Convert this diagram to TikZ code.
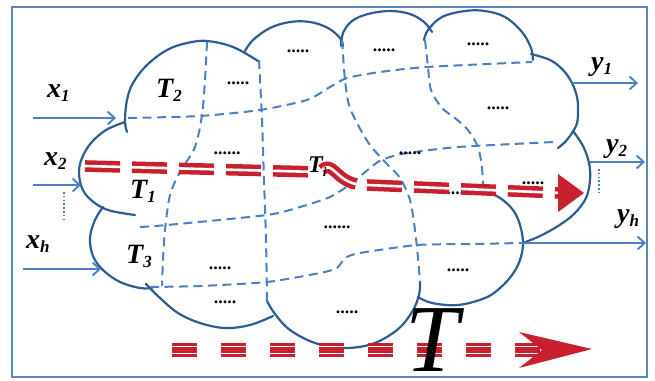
\documentclass[tikz,border=0pt]{standalone}
\usepackage{fontspec}
\setmainfont{Liberation Serif}
\usetikzlibrary{arrows.meta,calc}
\definecolor{outl}{HTML}{2E5D93}
\definecolor{lineb}{HTML}{4A80C4}
\definecolor{frameb}{HTML}{5A86BA}
\definecolor{redp}{HTML}{C8202C}
\newcommand\sbs[1]{\raisebox{-4.5pt}{\fontsize{17}{17}\selectfont #1}}
\tikzset{
  cloudline/.style={draw=outl, line width=2.2pt, line cap=round},
  part/.style={draw=lineb, line width=2pt, dash pattern=on 9pt off 5.5pt},
  io/.style={draw=lineb, line width=1.9pt, -{Straight Barb[length=7pt,width=13pt,line width=1.9pt]}},
  dotv/.style={draw=lineb, line width=1.8pt, dash pattern=on 1.6pt off 2.2pt},
  lab/.style={font=\fontsize{28}{28}\selectfont\bfseries\itshape, inner sep=0pt, anchor=base west},
  dts/.style={font=\fontsize{18}{18}\selectfont\bfseries, inner sep=0pt},
  reddbl/.style={draw=redp, line width=4.5pt, double=white, double distance=2.6pt, dash pattern=on 35pt off 12pt},
  redtri/.style={draw=redp, line width=14pt, dash pattern=on 25pt off 24pt},
  whtri/.style={draw=white, line width=1.4pt, dash pattern=on 25pt off 24pt},
}
\begin{document}
\begin{tikzpicture}[x=1pt,y=-1pt]
\useasboundingbox (0,0) rectangle (655,380);
\fill[white] (0,0) rectangle (655,380);
\draw[frameb, line width=1.8pt] (12,7) rectangle (647,377);

% cloud outline lobes
\draw[cloudline] plot[smooth, tension=0.6] coordinates {(127,132) (125,121) (127,100) (133,83) (147,65) (167,50) (187,43) (207,41) (233,47) (258,61)};
\draw[cloudline] plot[smooth, tension=0.6] coordinates {(245,51) (253,40) (270,28) (290,22) (310,22) (328,28) (340,38) (343,46)};
\draw[cloudline] plot[smooth, tension=0.6] coordinates {(341,46) (343,33) (352,21) (368,14) (390,11) (410,14) (424,22) (432,32)};
\draw[cloudline] plot[smooth, tension=0.6] coordinates {(424,40) (428,30) (442,17) (465,11) (485,11) (505,17) (522,32) (531,48) (533,60)};
\draw[cloudline] plot[smooth, tension=0.6] coordinates {(531,54) (550,60) (563,70) (572,83) (577,97) (578,110) (577,123) (572,133) (565,142) (558,148)};
\draw[cloudline] plot[smooth, tension=0.6] coordinates {(573,131) (583,146) (589,163) (590,180) (586,198) (574,214) (558,226) (540,236) (523,243)};
\draw[cloudline] plot[smooth, tension=0.6] coordinates {(482,189) (500,198) (513,210) (520,225) (523,243) (520,260) (512,275) (500,288) (485,298) (458,305) (432,303) (418,297)};
\draw[cloudline] plot[smooth, tension=0.6] coordinates {(267,301) (275,314) (290,330) (315,343) (343,348) (372,344) (397,330) (412,312) (419,295) (420,282)};
\draw[cloudline] plot[smooth, tension=0.6] coordinates {(146,284) (160,298) (178,313) (200,323) (225,328) (250,325) (273,316)};
\draw[cloudline] plot[smooth, tension=0.6] coordinates {(103,207) (95,220) (90,238) (93,256) (103,270) (120,282) (140,288) (152,288)};
\draw[cloudline] plot[smooth, tension=0.6] coordinates {(125,122) (106,130) (91,143) (82,158) (79,172) (82,188) (91,200) (108,210) (135,215)};

% partition dashed lines
\draw[part] plot[smooth, tension=0.4] coordinates {(128,118) (200,116) (260,110) (307,100) (330,87) (347,78) (380,72) (427,67) (532,62)};
\draw[part] plot[smooth, tension=0.5] coordinates {(207,42) (205,80) (202,115) (195,147) (180,172) (170,195) (165,230) (163,260) (162,286)};
\draw[part] plot[smooth, tension=0.5] coordinates {(259,60) (262,120) (264,180) (266,240) (267,301)};
\draw[part] plot[smooth, tension=0.5] coordinates {(342,40) (345,80) (349,105) (358,125) (370,145) (385,162) (400,178) (410,200) (415,230) (418,258) (420,282)};
\draw[part] plot[smooth, tension=0.5] coordinates {(425,40) (428,67) (431,90) (442,108) (455,118) (468,130) (478,147) (482,168) (483,188)};
\draw[part] plot[smooth, tension=0.4] coordinates {(140,227) (167,225) (267,215) (300,207) (330,197) (352,183) (378,162) (402,154) (458,147) (555,142)};
\draw[part] plot[smooth, tension=0.4] coordinates {(150,287) (200,286) (267,282) (320,273) (337,268) (345,258) (360,253) (417,245) (470,244) (523,243)};

% inputs and outputs
\coordinate (x1s) at (33,118); \coordinate (x1e) at (116,118);
\coordinate (x2s) at (33,185); \coordinate (x2e) at (81,185);
\coordinate (xhs) at (23,269); \coordinate (xhe) at (101,269);
\coordinate (y1s) at (572,83); \coordinate (y1e) at (638,83);
\coordinate (y2s) at (590,162); \coordinate (y2e) at (645,162);
\coordinate (yhs) at (523,243); \coordinate (yhe) at (646,243);
\draw[io] (x1s) -- (x1e);
\draw[io] (x2s) -- (x2e);
\draw[io] (xhs) -- (xhe);
\draw[io] (y1s) -- (y1e);
\draw[io] (y2s) -- (y2e);
\draw[io] (yhs) -- (yhe);
\coordinate (dxa) at (64,192); \coordinate (dxb) at (64,219);
\coordinate (dya) at (599,169); \coordinate (dyb) at (599,194);
\draw[dotv] (dxa) -- (dxb);
\draw[dotv] (dya) -- (dyb);

% dots
\node[dts] (d1) at (238,83) {.....};
\node[dts] (d2) at (298,51) {.....};
\node[dts] (d3) at (384,50) {.....};
\node[dts] (d4) at (478,44) {.....};
\node[dts] (d5) at (498,108) {.....};
\node[dts] (d6) at (410,153) {.....};
\node[dts] (d7) at (227,153) {......};
\node[dts] (d8) at (337,227) {......};
\node[dts] (d9) at (453,193) {.....};
\node[dts] (d10) at (533,183) {.....};
\node[dts] (d11) at (220,268) {.....};
\node[dts] (d12) at (225,302) {.....};
\node[dts] (d13) at (347,312) {.....};
\node[dts] (d14) at (458,270) {.....};

% red path arrow (upper)
\coordinate (ra) at (85,166); \coordinate (rb) at (318,172);
\coordinate (rc) at (322,170); \coordinate (rd) at (356,184);
\coordinate (re) at (367,185); \coordinate (rf) at (561,193);
\draw[reddbl] (ra) -- (rb);
\draw[draw=redp, line width=4.5pt, double=white, double distance=2.6pt] (rc) .. controls (332,160) and (336,180) .. (rd);
\draw[reddbl] (re) -- (rf);
\fill[redp] (558,174) -- (584,193) -- (558,212) -- cycle;

% red arrow (bottom)
\coordinate (ba) at (172,350); \coordinate (bb) at (545,350);
\draw[redtri] (ba) -- (bb);
\draw[whtri] ($(ba)+(0,-3.5)$) -- ($(bb)+(0,-3.5)$);
\draw[whtri] ($(ba)+(0,3.5)$) -- ($(bb)+(0,3.5)$);
\fill[redp] (519,332) -- (592,349) -- (519,368) -- (542,350) -- cycle;

% labels
\node[lab] (lx1) at (47,97) {x\sbs{1}};
\node[lab] (lx2) at (44,165) {x\sbs{2}};
\node[lab] (lxh) at (26,248) {x\sbs{h}};
\node[lab] (ly1) at (591,70) {y\sbs{1}};
\node[lab] (ly2) at (606,152) {y\sbs{2}};
\node[lab] (lyh) at (617,222) {y\sbs{h}};
\node[lab] (lt2) at (156,97) {T\sbs{2}};
\node[lab] (lt1) at (130,198) {T\sbs{1}};
\node[lab] (lt3) at (126,263) {T\sbs{3}};
\node[lab, font=\fontsize{24}{24}\selectfont\bfseries\itshape] (lti) at (308,172) {T\raisebox{-4pt}{\fontsize{13}{13}\selectfont i}};
\node[inner sep=0pt, anchor=base west, font=\fontsize{96}{96}\selectfont\itshape] (bigT) at (405,371) {T};
\end{tikzpicture}
\end{document}
